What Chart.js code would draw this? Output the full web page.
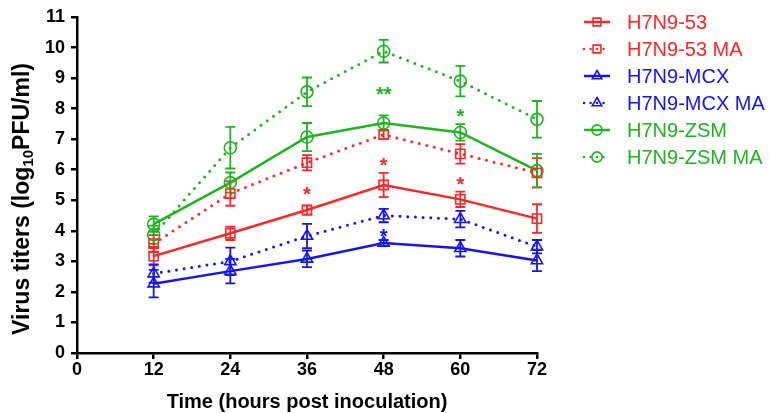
<!DOCTYPE html>
<html>
<head>
  <meta charset="utf-8">
  <title>Virus titers</title>
  <script src="https://cdnjs.cloudflare.com/ajax/libs/Chart.js/4.4.0/chart.umd.min.js"></script>
  <style>
    body { margin: 0; background: #fff; }
    #wrap { width: 769px; height: 413px; }
  </style>
</head>
<body>
  <div id="wrap"><canvas id="myChart" width="769" height="413"></canvas></div>

  <script>
    // data (hours post inoculation, log10 PFU/ml, +/- error)
    const hours = [12, 24, 36, 48, 60, 72];

    const h53 = [3.17, 3.92, 4.68, 5.5, 5.03, 4.4];
    const h53Err = [0.3, 0.22, 0.15, 0.4, 0.25, 0.47];
    const h53MA = [3.58, 5.22, 6.23, 7.15, 6.52, 5.9];
    const h53MAErr = [0.28, 0.4, 0.25, 0.15, 0.32, 0.48];

    const mcx = [2.27, 2.68, 3.08, 3.6, 3.43, 3.03];
    const mcxErr = [0.45, 0.4, 0.27, 0.1, 0.27, 0.35];
    const mcxMA = [2.6, 3.0, 3.83, 4.5, 4.38, 3.48];
    const mcxMAErr = [0.3, 0.45, 0.4, 0.22, 0.27, 0.22];

    const zsm = [4.22, 5.58, 7.07, 7.53, 7.22, 5.97];
    const zsmErr = [0.25, 0.33, 0.46, 0.25, 0.27, 0.55];
    const zsmMA = [3.87, 6.72, 8.55, 9.88, 8.9, 7.65];
    const zsmMAErr = [0.3, 0.68, 0.47, 0.37, 0.5, 0.6];

    const seriesNames = ['H7N9-53', 'H7N9-53 MA', 'H7N9-MCX', 'H7N9-MCX MA', 'H7N9-ZSM', 'H7N9-ZSM MA'];

    // significance marks: hour, value, text, series colour index
    const starHours = [36, 48, 60, 48, 48, 60];
    const starValues = [5.35, 6.28, 5.65, 3.97, 8.62, 7.9];
    const starTexts = ['*', '*', '*', '*', '**', '*'];
    const starSeries = [0, 0, 0, 2, 4, 4];

    const yTicks = [0, 11];
    const xTicks = [0, 72];

    const RED = '#ff2626';
    const BLUE = '#1414f5';
    const GREEN = '#1fb41f';
    const FONT = '"Liberation Sans", Arial, sans-serif';
    const DOTS = [0, 7.7];

    function makeSet(i, values, errs, color, shape, radius, dotted) {
      return {
        label: seriesNames[i],
        data: hours.map((h, k) => ({ x: h, y: values[k] })),
        errors: errs,
        borderColor: color,
        borderWidth: dotted ? 3 : 2.5,
        borderDash: dotted ? DOTS : [],
        borderCapStyle: dotted ? 'round' : 'butt',
        pointStyle: shape,
        pointRadius: radius,
        pointBorderWidth: 1.6,
        pointBorderColor: color,
        pointBackgroundColor: 'rgba(0,0,0,0)',
        fill: false,
        tension: 0,
        clip: false,
        dotted: dotted
      };
    }

    const datasets = [
      makeSet(0, h53, h53Err, RED, 'rect', 6.5, false),
      makeSet(1, h53MA, h53MAErr, RED, 'rect', 6.5, true),
      makeSet(2, mcx, mcxErr, BLUE, 'triangle', 6.5, false),
      makeSet(3, mcxMA, mcxMAErr, BLUE, 'triangle', 6.5, true),
      makeSet(4, zsm, zsmErr, GREEN, 'circle', 6, false),
      makeSet(5, zsmMA, zsmMAErr, GREEN, 'circle', 6, true)
    ];

    function drawMarker(ctx, shape, x, y, r) {
      ctx.beginPath();
      if (shape === 'rect') {
        const s = r * Math.SQRT1_2;
        ctx.rect(x - s, y - s, 2 * s, 2 * s);
      } else if (shape === 'triangle') {
        ctx.moveTo(x, y - r);
        ctx.lineTo(x + r * Math.sin(Math.PI / 3), y + r / 2);
        ctx.lineTo(x - r * Math.sin(Math.PI / 3), y + r / 2);
        ctx.closePath();
      } else {
        ctx.arc(x, y, r, 0, Math.PI * 2);
      }
      ctx.stroke();
    }

    // error bars, asterisks, titles and legend
    const extras = {
      id: 'extras',
      beforeDatasetsDraw(chart) {
        const ctx = chart.ctx;
        const xs = chart.scales.x, ys = chart.scales.y;
        ctx.save();
        chart.data.datasets.forEach((ds) => {
          ctx.strokeStyle = ds.borderColor;
          ctx.lineWidth = 1.8;
          ds.data.forEach((p, k) => {
            const px = xs.getPixelForValue(p.x);
            const top = ys.getPixelForValue(p.y + ds.errors[k]);
            const bot = ys.getPixelForValue(p.y - ds.errors[k]);
            ctx.beginPath();
            ctx.moveTo(px, top); ctx.lineTo(px, bot);
            ctx.moveTo(px - 5, top); ctx.lineTo(px + 5, top);
            ctx.moveTo(px - 5, bot); ctx.lineTo(px + 5, bot);
            ctx.stroke();
          });
        });
        ctx.restore();
      },
      afterDraw(chart) {
        const ctx = chart.ctx;
        const xs = chart.scales.x, ys = chart.scales.y;
        const area = chart.chartArea;
        ctx.save();

        // asterisks
        ctx.font = 'bold 20px ' + FONT;
        ctx.textAlign = 'center';
        ctx.textBaseline = 'alphabetic';
        starHours.forEach((h, i) => {
          ctx.fillStyle = datasets[starSeries[i]].borderColor;
          ctx.fillText(starTexts[i], xs.getPixelForValue(h), ys.getPixelForValue(starValues[i]) + 11);
        });

        // x title
        ctx.fillStyle = '#000';
        ctx.font = 'bold 20px ' + FONT;
        ctx.textBaseline = 'middle';
        ctx.fillText('Time (hours post inoculation)', (area.left + area.right) / 2, 402);

        // y title with subscript
        ctx.translate(23, 199);
        ctx.rotate(-Math.PI / 2);
        ctx.textAlign = 'left';
        const a = 'Virus titers (log', b = '10', c = 'PFU/ml)';
        ctx.font = 'bold 23px ' + FONT;
        const wa = ctx.measureText(a).width, wc = ctx.measureText(c).width;
        ctx.font = 'bold 15px ' + FONT;
        const wb = ctx.measureText(b).width;
        let x0 = -(wa + wb + wc) / 2;
        ctx.font = 'bold 23px ' + FONT;
        ctx.fillText(a, x0, 0);
        ctx.font = 'bold 15px ' + FONT;
        ctx.fillText(b, x0 + wa, 6);
        ctx.font = 'bold 23px ' + FONT;
        ctx.fillText(c, x0 + wa + wb, 0);
        ctx.restore();

        // legend
        ctx.save();
        const rows = [22, 49, 76, 103, 130, 157];
        chart.data.datasets.forEach((ds, i) => {
          const y = rows[i];
          ctx.strokeStyle = ds.borderColor;
          ctx.lineWidth = 2.5;
          ctx.setLineDash(ds.dotted ? [0, 6.5] : []);
          ctx.lineCap = ds.dotted ? 'round' : 'butt';
          ctx.beginPath();
          ctx.moveTo(584, y); ctx.lineTo(610, y);
          ctx.stroke();
          ctx.setLineDash([]);
          ctx.lineWidth = 1.6;
          drawMarker(ctx, ds.pointStyle, 597, y, ds.pointRadius * 0.85);
          ctx.fillStyle = ds.borderColor;
          ctx.font = '20px ' + FONT;
          ctx.textAlign = 'left';
          ctx.textBaseline = 'middle';
          ctx.fillText(ds.label, 627, y + 1);
        });
        ctx.restore();
      }
    };

    const axisStyle = {
      border: { display: true, color: '#000', width: 2.5 },
      grid: { display: true, drawOnChartArea: false, drawTicks: true, tickLength: 6, color: '#000', lineWidth: 2.5 }
    };

    const config = {
      type: 'line',
      data: { datasets: datasets },
      options: {
        responsive: false,
        animation: false,
        devicePixelRatio: 1,
        layout: { padding: { left: 0, right: 232, top: 17, bottom: 0 } },
        scales: {
          x: {
            type: 'linear',
            min: xTicks[0],
            max: xTicks[1],
            border: axisStyle.border,
            grid: axisStyle.grid,
            ticks: { stepSize: 12, color: '#000', padding: 0, font: { family: FONT, size: 18, weight: 'bold' } },
            afterFit(scale) { scale.height = 60; }
          },
          y: {
            min: yTicks[0],
            max: yTicks[1],
            border: axisStyle.border,
            grid: axisStyle.grid,
            ticks: { stepSize: 1, color: '#000', padding: 6, font: { family: FONT, size: 18, weight: 'bold' } },
            afterFit(scale) { scale.width = 77; }
          }
        },
        plugins: {
          legend: { display: false },
          tooltip: { enabled: false }
        }
      },
      plugins: [extras]
    };

    var chart = new Chart(document.getElementById('myChart'), config);
  </script>
</body>
</html>
